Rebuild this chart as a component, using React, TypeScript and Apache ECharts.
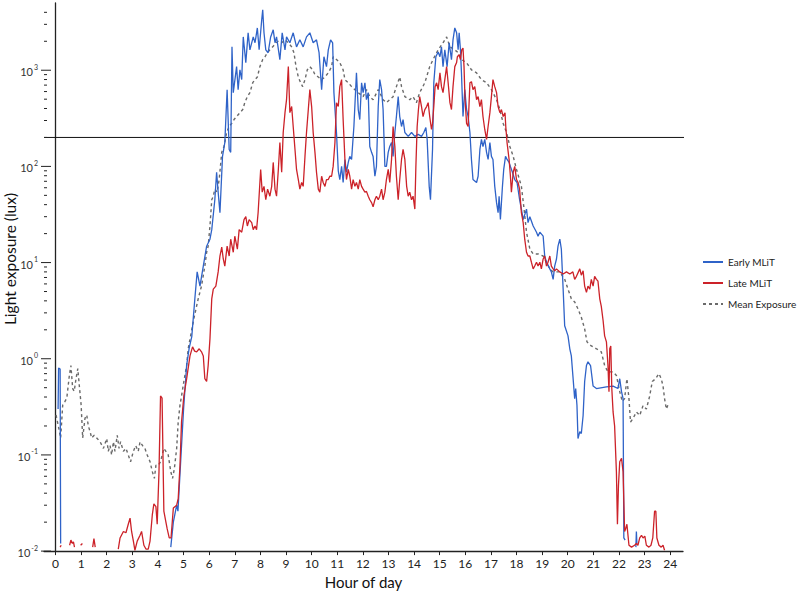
import React, { useEffect, useRef } from "react";
import * as echarts from "echarts";

const hourTicks = [0, 1, 2, 3, 4, 5, 6, 7, 8, 9, 10, 11, 12, 13, 14, 15, 16, 17, 18, 19, 20, 21, 22, 23, 24];
const majorLux = [0.01, 0.1, 1, 10, 100, 1000];
const minorLux = [
  0.02, 0.03, 0.04, 0.05, 0.06, 0.07, 0.08, 0.09,
  0.2, 0.3, 0.4, 0.5, 0.6, 0.7, 0.8, 0.9,
  2, 3, 4, 5, 6, 7, 8, 9,
  20, 30, 40, 50, 60, 70, 80, 90,
  200, 300, 400, 500, 600, 700, 800, 900,
  2000, 3000, 4000,
];
const thresholdLux = 200;
const X_MIN = -0.45;
const X_MAX = 24.5;
const THRESHOLD_END = 25.5;
const Y_MIN = 0.01;
const Y_MAX = 5000;

type Pt = [number, number | null];

const earlyMLiT: Pt[] = [
  [0.1, 0.3], [0.12, 0.8], [0.18, 0.78], [0.2, 0.012], [0.3, null],
  [4.5, 0.011], [4.6, 0.02], [4.73, 0.03], [4.78, 0.026], [4.9, 0.1], [5.0, 0.3], [5.12, 0.86], [5.22, 1.3], [5.32, 1.7],
  [5.44, 4.2], [5.53, 8.0], [5.64, 5.7], [5.77, 9.2], [5.9, 14.8], [6.03, 17.5], [6.1, 22], [6.22, 45], [6.29, 87],
  [6.35, 54], [6.42, 33], [6.52, 127], [6.61, 177], [6.7, 628], [6.78, 150], [6.84, 140], [6.89, 1750], [6.94, 585],
  [7.07, 1090], [7.13, 628], [7.2, 1010], [7.27, 800], [7.33, 2220], [7.43, 1200], [7.52, 2450], [7.59, 1630],
  [7.72, 2220], [7.79, 1930], [7.88, 2750], [7.95, 1630], [8.05, 3330], [8.09, 4240], [8.14, 2450], [8.21, 1630],
  [8.3, 1520], [8.4, 2220], [8.5, 2630], [8.57, 1930], [8.63, 2220], [8.76, 1290], [8.85, 2450], [8.96, 1630],
  [9.02, 2220], [9.15, 1930], [9.28, 2450], [9.41, 1750], [9.54, 2070], [9.67, 1750], [9.8, 2220], [9.93, 2450],
  [10.06, 1930], [10.19, 2070], [10.29, 1520], [10.39, 628], [10.48, 1380], [10.58, 1090], [10.65, 1630], [10.74, 2070],
  [10.82, 1930], [10.87, 585], [10.97, 225], [11.04, 90], [11.1, 73], [11.17, 100], [11.23, 68], [11.3, 118],
  [11.36, 87], [11.43, 110], [11.49, 127], [11.56, 118], [11.65, 260], [11.75, 940], [11.82, 390], [11.88, 307],
  [11.95, 740], [12.01, 585], [12.08, 740], [12.14, 494], [12.21, 585], [12.27, 161], [12.34, 140], [12.4, 127],
  [12.47, 79], [12.53, 100], [12.6, 419], [12.66, 800], [12.73, 628], [12.79, 390], [12.86, 100], [12.92, 100],
  [12.99, 140], [13.05, 161], [13.12, 177], [13.18, 127], [13.25, 225], [13.31, 330], [13.38, 531], [13.44, 330],
  [13.51, 260], [13.57, 307], [13.64, 225], [13.77, 205], [13.9, 225], [14.03, 205], [14.16, 215], [14.29, 205],
  [14.38, 225], [14.46, 254], [14.51, 191], [14.59, 62], [14.64, 45], [14.72, 150], [14.77, 740], [14.85, 1380],
  [14.94, 1550], [15.01, 1380], [15.07, 1750], [15.13, 1090], [15.2, 1630], [15.29, 1090], [15.37, 1930], [15.46, 1290],
  [15.52, 2070], [15.59, 2750], [15.66, 2450], [15.72, 1630], [15.76, 2450], [15.81, 1630], [15.85, 940], [15.91, 330],
  [15.98, 628], [16.05, 390], [16.11, 330], [16.18, 225], [16.24, 118], [16.3, 73], [16.44, 68], [16.5, 79],
  [16.57, 150], [16.63, 191], [16.69, 161], [16.76, 191], [16.83, 140], [16.89, 118], [16.96, 177], [17.02, 127],
  [17.08, 118], [17.15, 62], [17.22, 42], [17.28, 33], [17.32, 49], [17.37, 28], [17.45, 62], [17.5, 93],
  [17.57, 127], [17.63, 118], [17.71, 110], [17.76, 100], [17.84, 87], [17.93, 73], [18.02, 68], [18.12, 45],
  [18.19, 36], [18.26, 28], [18.39, 36], [18.45, 26], [18.52, 30], [18.65, 24], [18.78, 20.7], [18.84, 18.8],
  [18.91, 20.7], [19.04, 18.8], [19.1, 11.7], [19.17, 10.1], [19.3, 8.6], [19.36, 8.0], [19.43, 6.7], [19.49, 9.2],
  [19.56, 10.9], [19.62, 14.8], [19.69, 17.5], [19.75, 13.8], [19.82, 5.3], [19.88, 2.2], [20.01, 1.73], [20.08, 1.27],
  [20.14, 1.07], [20.2, 0.67], [20.27, 0.385], [20.31, 0.49], [20.36, 0.326], [20.4, 0.148], [20.47, 0.175], [20.53, 0.167],
  [20.6, 0.257], [20.66, 0.58], [20.73, 0.85], [20.79, 0.93], [20.89, 0.85], [20.99, 0.52], [21.12, 0.49], [21.51, 0.51],
  [21.77, 0.52], [21.96, 0.49], [22.03, 0.62], [22.1, 0.455], [22.16, 0.385], [22.19, 0.0137], [22.24, 0.013], [22.3, null],
  [22.66, 0.011], [22.68, 0.016], [22.7, 0.012],
];

const lateMLiT: Pt[] = [
  [0.18, 0.011], [0.22, 0.0115], [0.26, null],
  [0.55, 0.0115], [0.6, 0.013], [0.66, 0.012], [0.7, 0.0125], [0.74, 0.011], [0.8, null],
  [0.98, 0.0115], [1.05, 0.012], [1.1, null],
  [1.45, 0.011], [1.5, 0.0135], [1.55, 0.011], [1.6, null],
  [2.45, 0.0105], [2.52, 0.0137], [2.65, 0.016], [2.75, 0.0155], [2.84, 0.019], [2.91, 0.022], [2.97, 0.016], [3.04, 0.0127],
  [3.1, 0.0102], [3.19, 0.0127], [3.3, 0.0146], [3.36, 0.016], [3.45, 0.0115], [3.53, 0.0105], [3.62, 0.0105], [3.69, 0.0127],
  [3.78, 0.024], [3.84, 0.031], [3.92, 0.029], [3.97, 0.019], [4.04, 0.067], [4.1, 0.41], [4.16, 0.39], [4.23, 0.026],
  [4.31, 0.02], [4.36, 0.017], [4.44, 0.0137], [4.51, 0.0137], [4.6, 0.028], [4.73, 0.03], [4.79, 0.035], [4.86, 0.078],
  [4.92, 0.22], [5.01, 0.41], [5.12, 0.62], [5.25, 1.07], [5.35, 1.33], [5.43, 1.2], [5.51, 1.18], [5.61, 1.27],
  [5.7, 1.18], [5.77, 1.07], [5.83, 0.62], [5.9, 0.58], [5.96, 0.85], [6.03, 1.61], [6.1, 4.2], [6.16, 5.3],
  [6.26, 5.7], [6.35, 8.0], [6.42, 11.7], [6.49, 14.5], [6.55, 10.9], [6.61, 9.2], [6.7, 14.8], [6.78, 11.7],
  [6.84, 17.5], [6.94, 12.8], [7.0, 18.8], [7.1, 13.8], [7.17, 22], [7.27, 20.7], [7.36, 28], [7.43, 30],
  [7.49, 24], [7.56, 28], [7.66, 26], [7.72, 22], [7.79, 24], [7.85, 22], [7.91, 33], [8.01, 93],
  [8.07, 54], [8.14, 62], [8.21, 45], [8.28, 58], [8.37, 49], [8.44, 62], [8.5, 110], [8.57, 58],
  [8.63, 49], [8.7, 93], [8.76, 177], [8.83, 87], [8.89, 225], [8.96, 362], [9.02, 494], [9.09, 1090],
  [9.15, 362], [9.22, 419], [9.28, 260], [9.35, 150], [9.41, 93], [9.48, 73], [9.54, 58], [9.61, 68],
  [9.67, 62], [9.74, 127], [9.8, 225], [9.87, 390], [9.93, 628], [10.0, 419], [10.06, 225], [10.13, 140],
  [10.19, 87], [10.26, 58], [10.32, 54], [10.39, 79], [10.45, 68], [10.52, 62], [10.58, 73], [10.65, 73],
  [10.71, 79], [10.78, 79], [10.84, 100], [10.91, 177], [10.97, 460], [11.04, 419], [11.1, 675], [11.17, 800],
  [11.23, 307], [11.3, 118], [11.36, 73], [11.43, 93], [11.49, 79], [11.56, 58], [11.62, 73], [11.69, 62],
  [11.75, 68], [11.82, 58], [11.88, 73], [11.95, 62], [12.01, 58], [12.08, 54], [12.14, 55], [12.21, 49],
  [12.27, 45], [12.34, 42], [12.4, 38], [12.47, 45], [12.53, 49], [12.6, 45], [12.66, 49], [12.73, 58],
  [12.79, 45], [12.86, 54], [12.92, 73], [12.99, 93], [13.05, 68], [13.12, 118], [13.18, 260], [13.25, 161],
  [13.31, 79], [13.38, 45], [13.44, 73], [13.51, 118], [13.57, 150], [13.64, 118], [13.71, 62], [13.77, 49],
  [13.83, 54], [13.9, 45], [13.96, 49], [14.03, 36], [14.07, 100], [14.12, 260], [14.17, 390], [14.22, 531],
  [14.29, 419], [14.35, 330], [14.42, 390], [14.49, 419], [14.55, 460], [14.61, 330], [14.68, 242], [14.72, 280],
  [14.77, 419], [14.82, 675], [14.88, 740], [14.94, 628], [15.01, 940], [15.07, 675], [15.13, 585], [15.2, 800],
  [15.27, 1090], [15.33, 740], [15.4, 460], [15.46, 390], [15.52, 675], [15.59, 1090], [15.66, 1200], [15.69, 1380],
  [15.76, 1450], [15.81, 1290], [15.86, 1630], [15.91, 1700], [15.95, 1090], [15.99, 494], [16.05, 280], [16.11, 260],
  [16.18, 740], [16.24, 760], [16.3, 628], [16.37, 675], [16.44, 494], [16.5, 531], [16.57, 419], [16.63, 494],
  [16.69, 330], [16.76, 242], [16.83, 191], [16.89, 260], [16.96, 362], [17.02, 531], [17.08, 800], [17.15, 675],
  [17.22, 585], [17.28, 419], [17.35, 362], [17.41, 390], [17.48, 330], [17.55, 362], [17.58, 260], [17.63, 177],
  [17.71, 118], [17.76, 80], [17.8, 54], [17.87, 87], [17.93, 100], [18.0, 73], [18.06, 68], [18.12, 58],
  [18.19, 33], [18.26, 26], [18.32, 17.5], [18.39, 12.8], [18.45, 11.7], [18.52, 11.7], [18.58, 10.1], [18.65, 8.6],
  [18.71, 9.2], [18.78, 10.1], [18.84, 9.2], [18.91, 10.1], [18.97, 8.6], [19.04, 10.9], [19.1, 11.7], [19.17, 9.2],
  [19.23, 10.1], [19.3, 11.7], [19.36, 9.2], [19.43, 8.6], [19.49, 8.2], [19.56, 8.6], [19.69, 8.0], [19.82, 7.6],
  [19.95, 8.0], [20.08, 7.6], [20.2, 8.0], [20.27, 6.7], [20.34, 7.2], [20.47, 8.6], [20.53, 7.4], [20.6, 8.2],
  [20.66, 5.7], [20.73, 4.9], [20.79, 5.7], [20.86, 5.3], [20.92, 6.7], [20.99, 5.7], [21.05, 7.2], [21.12, 6.7],
  [21.18, 6.4], [21.25, 4.2], [21.31, 3.5], [21.38, 2.5], [21.44, 1.73], [21.51, 1.5], [21.57, 0.85], [21.61, 0.455],
  [21.64, 1.27], [21.68, 1.36], [21.72, 0.49], [21.77, 0.28], [21.83, 0.2], [21.9, 0.067], [21.94, 0.019], [21.98, 0.048],
  [22.03, 0.085], [22.1, 0.092], [22.16, 0.067], [22.22, 0.016], [22.26, 0.017], [22.31, 0.019], [22.39, 0.0115], [22.49, 0.011],
  [22.61, 0.0115], [22.68, 0.012], [22.74, 0.0115], [22.81, 0.0137], [22.88, 0.0146], [22.94, 0.0137], [23.01, 0.0143], [23.07, 0.0115],
  [23.17, 0.011], [23.25, 0.0115], [23.32, 0.0137], [23.39, 0.026], [23.44, 0.026], [23.48, 0.0137], [23.56, 0.0115], [23.65, 0.011],
  [23.72, 0.0115], [23.78, 0.0102],
];

const meanExposure: Pt[] = [
  [0.02, 0.26], [0.11, 0.2], [0.2, 0.15], [0.28, 0.33], [0.37, 0.36], [0.44, 0.39], [0.54, 0.67], [0.6, 0.85],
  [0.67, 0.49], [0.73, 0.46], [0.8, 0.62], [0.87, 0.79], [0.93, 0.52], [1.0, 0.33], [1.06, 0.15], [1.15, 0.24],
  [1.22, 0.26], [1.28, 0.2], [1.35, 0.175], [1.41, 0.15], [1.51, 0.16], [1.61, 0.15], [1.74, 0.137], [1.87, 0.117],
  [2.0, 0.148], [2.06, 0.109], [2.13, 0.125], [2.19, 0.1], [2.26, 0.137], [2.32, 0.109], [2.41, 0.16], [2.48, 0.117],
  [2.54, 0.137], [2.65, 0.109], [2.75, 0.117], [2.84, 0.1], [2.93, 0.085], [3.04, 0.109], [3.13, 0.125], [3.23, 0.109],
  [3.3, 0.137], [3.4, 0.125], [3.49, 0.117], [3.58, 0.1], [3.69, 0.085], [3.78, 0.067], [3.86, 0.057], [3.92, 0.078],
  [4.01, 0.078], [4.1, 0.085], [4.23, 0.117], [4.31, 0.109], [4.4, 0.1], [4.5, 0.067], [4.57, 0.057], [4.64, 0.072],
  [4.73, 0.117], [4.79, 0.22], [4.86, 0.33], [4.92, 0.41], [5.01, 0.58], [5.12, 0.85], [5.18, 1.27], [5.25, 1.6],
  [5.4, 2.6], [5.57, 4.2], [5.7, 5.7], [5.83, 9.2], [5.9, 12.8], [5.96, 14.8], [6.03, 24], [6.1, 45],
  [6.16, 49], [6.22, 58], [6.31, 54], [6.39, 73], [6.49, 140], [6.58, 161], [6.68, 225], [6.78, 260],
  [6.88, 280], [6.97, 307], [7.07, 330], [7.2, 362], [7.31, 390], [7.39, 460], [7.49, 531], [7.59, 585],
  [7.7, 742], [7.79, 797], [7.88, 850], [7.98, 1090], [8.09, 1290], [8.18, 1380], [8.27, 1520], [8.37, 1630],
  [8.48, 1750], [8.61, 1930], [8.7, 2000], [8.83, 1930], [8.96, 2070], [9.09, 1930], [9.22, 1750], [9.31, 1520],
  [9.39, 1090], [9.48, 850], [9.57, 742], [9.65, 675], [9.74, 797], [9.83, 1010], [9.93, 1090], [10.04, 1010],
  [10.13, 900], [10.26, 850], [10.39, 797], [10.52, 850], [10.65, 940], [10.78, 1090], [10.84, 1380], [10.97, 1290],
  [11.1, 1200], [11.23, 1010], [11.3, 797], [11.43, 742], [11.56, 675], [11.69, 628], [11.82, 585], [12.01, 531],
  [12.14, 628], [12.27, 531], [12.4, 494], [12.6, 628], [12.66, 585], [12.79, 494], [12.92, 460], [13.05, 494],
  [13.18, 531], [13.31, 675], [13.44, 850], [13.51, 675], [13.64, 531], [13.83, 494], [13.96, 531], [14.09, 460],
  [14.22, 585], [14.42, 742], [14.61, 1090], [14.74, 1290], [14.94, 1630], [15.13, 1930], [15.27, 2220], [15.4, 1750],
  [15.59, 1630], [15.72, 1520], [15.85, 1290], [16.05, 1200], [16.24, 1010], [16.44, 940], [16.63, 797], [16.83, 742],
  [17.02, 628], [17.22, 494], [17.35, 390], [17.48, 280], [17.61, 225], [17.74, 161], [17.87, 127], [18.0, 93],
  [18.19, 62], [18.3, 35], [18.39, 20.7], [18.52, 13.8], [18.65, 12.3], [18.84, 12.3], [19.04, 11.7], [19.17, 10.1],
  [19.3, 8.6], [19.43, 8.0], [19.69, 8.0], [19.88, 6.7], [20.01, 5.3], [20.14, 4.2], [20.27, 3.9], [20.4, 3.3],
  [20.53, 2.7], [20.66, 2.05], [20.75, 1.5], [20.92, 1.36], [21.12, 1.27], [21.31, 1.18], [21.44, 0.85], [21.57, 0.73],
  [21.77, 0.73], [21.9, 0.67], [22.03, 0.455], [22.13, 0.36], [22.22, 0.385], [22.31, 0.62], [22.39, 0.385], [22.45, 0.22],
  [22.55, 0.24], [22.68, 0.28], [22.81, 0.257], [22.94, 0.326], [23.07, 0.3], [23.2, 0.41], [23.3, 0.58], [23.43, 0.62],
  [23.56, 0.7], [23.65, 0.62], [23.72, 0.52], [23.78, 0.385], [23.85, 0.3], [23.91, 0.33],
];

const seriesNames = ["Early MLiT", "Late MLiT", "Mean Exposure"];
const FONT = "Lato, 'Open Sans', sans-serif";
const AXIS_COLOR = "#222";

export default function App() {
  const ref = useRef<HTMLDivElement>(null);

  useEffect(() => {
    if (!ref.current) return;
    const chart = echarts.init(ref.current, undefined, { renderer: "svg" });

    const yTickData = [
      ...majorLux.map((v) => [X_MIN, v, 1]),
      ...minorLux.map((v) => [X_MIN, v, 0]),
    ];

    const option: any = {
      animation: false,
      backgroundColor: "#fff",
      textStyle: { fontFamily: FONT },
      grid: { left: 44, right: 117, top: 3, bottom: 41, containLabel: false },
      legend: {
        data: seriesNames,
        orient: "vertical",
        left: 697,
        top: 252,
        itemWidth: 20,
        itemHeight: 10,
        itemGap: 11,
        itemStyle: { opacity: 0 },
        textStyle: { fontSize: 10, color: "#222", fontFamily: FONT },
      },
      xAxis: {
        type: "value",
        min: X_MIN,
        max: X_MAX,
        name: "Hour of day",
        nameLocation: "middle",
        nameGap: 18,
        nameTextStyle: { fontSize: 15, color: "#111", fontFamily: FONT },
        axisLine: { show: true, onZero: false, lineStyle: { color: AXIS_COLOR, width: 1.3 } },
        axisTick: { show: true, customValues: hourTicks, length: 4, lineStyle: { color: AXIS_COLOR } },
        axisLabel: { customValues: hourTicks, fontSize: 12, color: "#222", margin: 6, fontFamily: FONT },
        splitLine: { show: false },
      },
      yAxis: {
        type: "log",
        logBase: 10,
        min: Y_MIN,
        max: Y_MAX,
        interval: 1,
        axisLine: { show: true, lineStyle: { color: AXIS_COLOR, width: 1.3 } },
        axisTick: { show: false },
        splitLine: { show: false },
        axisLabel: {
          margin: 6,
          color: "#333",
          fontFamily: FONT,
          formatter: (v: number) => {
            const e = Math.log10(v);
            if (Math.abs(e - Math.round(e)) > 1e-6) return "";
            return `{b|10}{s|${Math.round(e)}}`;
          },
          rich: {
            b: { fontSize: 11, color: "#333", fontFamily: FONT, verticalAlign: "bottom", lineHeight: 14 },
            s: { fontSize: 7, color: "#333", fontFamily: FONT, verticalAlign: "top", lineHeight: 14, padding: [0, 0, 6, 1] },
          },
        },
      },
      graphic: [
        {
          type: "text",
          x: 10,
          y: 259,
          rotation: Math.PI / 2,
          style: {
            text: "Light exposure (lux)",
            font: `15.5px ${FONT}`,
            fill: "#111",
            textAlign: "center",
            textVerticalAlign: "middle",
          },
        },
      ],
      series: [
        {
          name: "threshold",
          type: "line",
          data: [[X_MIN, thresholdLux], [THRESHOLD_END, thresholdLux]],
          symbol: "none",
          clip: false,
          silent: true,
          lineStyle: { color: "#111", width: 1 },
          z: 1,
        },
        {
          name: "Mean Exposure",
          type: "line",
          data: meanExposure,
          symbol: "none",
          showSymbol: false,
          connectNulls: false,
          lineStyle: { color: "#6a6a6a", width: 1.4, type: [3, 3] },
          itemStyle: { color: "#6a6a6a" },
          z: 2,
        },
        {
          name: "Early MLiT",
          type: "line",
          data: earlyMLiT,
          symbol: "none",
          showSymbol: false,
          connectNulls: false,
          lineStyle: { color: "#2f63c8", width: 1.3 },
          itemStyle: { color: "#2f63c8" },
          z: 3,
        },
        {
          name: "Late MLiT",
          type: "line",
          data: lateMLiT,
          symbol: "none",
          showSymbol: false,
          connectNulls: false,
          lineStyle: { color: "#cc2229", width: 1.3 },
          itemStyle: { color: "#cc2229" },
          z: 4,
        },
        {
          name: "yticks",
          type: "custom",
          data: yTickData,
          silent: true,
          clip: false,
          z: 10,
          renderItem: (_params: any, api: any) => {
            const p = api.coord([api.value(0), api.value(1)]);
            const major = api.value(2) === 1;
            return {
              type: "line",
              shape: { x1: major ? p[0] - 3 : p[0], y1: p[1], x2: major ? p[0] + 7 : p[0] + 3, y2: p[1] },
              style: { stroke: AXIS_COLOR, lineWidth: 1 },
            };
          },
        },
      ],
    };

    chart.setOption(option);
    return () => chart.dispose();
  }, []);

  return <div ref={ref} style={{ width: 800, height: 594, position: "absolute", left: 0, top: 0 }} />;
}
